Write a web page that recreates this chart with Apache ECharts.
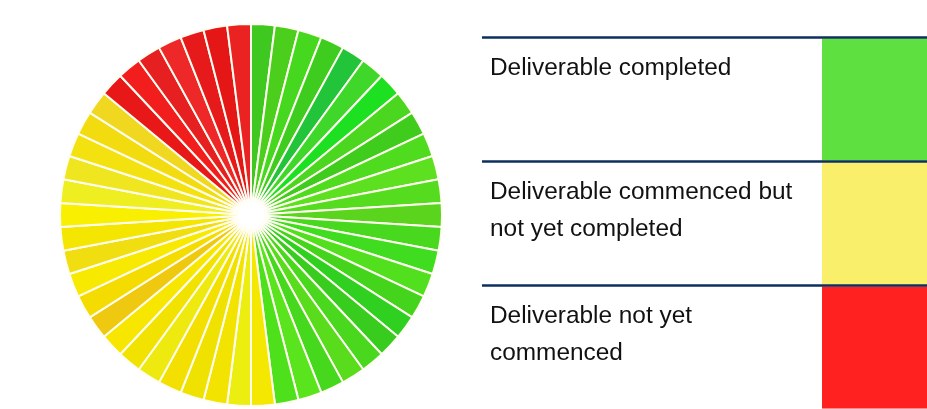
<!DOCTYPE html>
<html>
<head>
<meta charset="utf-8">
<script src="https://cdn.jsdelivr.net/npm/echarts@6/dist/echarts.min.js"></script>
<style>
  html, body { margin: 0; padding: 0; background: #ffffff; }
  #main { width: 927px; height: 409px; }
</style>
</head>
<body>
<div id="main"></div>
<script>
// ---- data ----
// 50 deliverables, clockwise from 12 o'clock
var statusCounts = [24, 19, 7]; // completed, commenced, not commenced
var sliceShades = [
    // completed (green)
    '#3fc81f', '#4ccf1c', '#46d81e', '#3ecd1e', '#22c43a', '#3fd82a', '#1de021', '#4bd61f',
    '#3fcc1c', '#4fdc1e', '#5ce020', '#55dc1e', '#5ad41c', '#48d81e', '#3fdc20', '#52e01e',
    '#44d41c', '#2fd020', '#38cc1e', '#4ad81e', '#58dc1c', '#46d81c', '#5ae41e', '#4fe01c',
    // commenced (yellow)
    '#f4e800', '#ecee10', '#f2e400', '#f0e200', '#f4e000', '#eeea10', '#f2e200', '#f6e600',
    '#efc810', '#f4dc00', '#f7ea00', '#f0de10', '#f4e600', '#f8f000', '#eeee20', '#f0e620',
    '#f4e210', '#f2dc10', '#f0d820',
    // not commenced (red)
    '#e81818', '#f21e1e', '#e62020', '#ee2828', '#e61a1a', '#e41616', '#ea2222'
];
var legendLabels = [
    'Deliverable completed',
    'Deliverable commenced but\nnot yet completed',
    'Deliverable not yet\ncommenced'
];
var legendColors = ['#5de040', '#f9ef6b', '#ff2020'];

function renderDeliverables() {
    var dom = document.getElementById('main');
    var myChart = echarts.init(dom, null, { renderer: 'canvas' });

    var total = statusCounts[0] + statusCounts[1] + statusCounts[2];
    var pieData = [];
    for (var i = 0; i < total; i++) {
        pieData.push({
            name: 'D' + (i + 1),
            value: 1,
            itemStyle: { color: sliceShades[i] }
        });
    }

    // legend table on the right
    var graphics = [];
    var rowTop = [37.5, 161.5, 285.5];
    for (var k = 0; k < 3; k++) {
        graphics.push({
            type: 'rect',
            shape: { x: 822, y: rowTop[k] + 1, width: 105, height: 122 },
            style: { fill: legendColors[k] },
            silent: true
        });
        graphics.push({
            type: 'line',
            shape: { x1: 482, y1: rowTop[k], x2: 927, y2: rowTop[k] },
            style: { stroke: '#0c2f5c', lineWidth: 2.5 },
            silent: true
        });
        graphics.push({
            type: 'text',
            x: 490,
            y: rowTop[k] + 13,
            style: {
                text: legendLabels[k],
                font: '24.4px "Liberation Sans", Arial, sans-serif',
                fill: '#111111',
                lineHeight: 36.5,
                verticalAlign: 'top'
            },
            silent: true
        });
    }
    // soft white hub in the middle of the pie
    graphics.push({
        type: 'circle',
        shape: { cx: 251, cy: 215, r: 13 },
        style: { fill: '#ffffff', shadowBlur: 16, shadowColor: '#ffffff' },
        z: 100,
        silent: true
    });

    var option = {
        backgroundColor: '#ffffff',
        animation: false,
        series: [{
            type: 'pie',
            center: [251, 215],
            radius: [0, 191],
            startAngle: 90,
            clockwise: true,
            label: { show: false },
            labelLine: { show: false },
            itemStyle: {
                borderColor: '#fffdf2',
                borderWidth: 2
            },
            emphasis: { disabled: true },
            data: pieData
        }],
        graphic: graphics
    };

    myChart.setOption(option);
}
renderDeliverables();
</script>
</body>
</html>
